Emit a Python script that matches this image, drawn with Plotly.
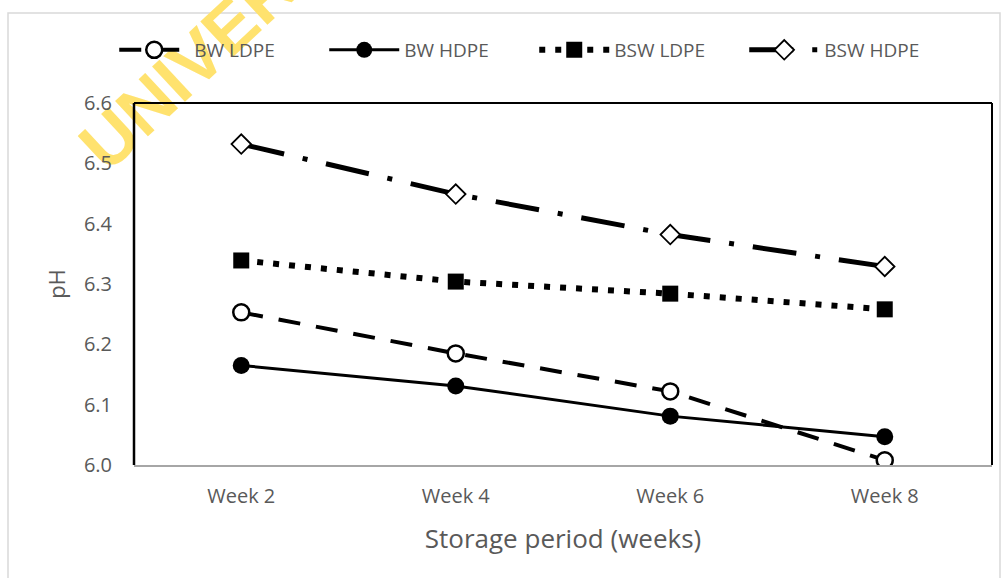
import plotly.graph_objects as go

weeks = ["Week 2", "Week 4", "Week 6", "Week 8"]
bw_ldpe = [6.253, 6.185, 6.122, 6.008]
bw_hdpe = [6.165, 6.131, 6.081, 6.047]
bsw_ldpe = [6.339, 6.304, 6.284, 6.258]
bsw_hdpe = [6.532, 6.449, 6.382, 6.329]
y_ticks = [6.0, 6.1, 6.2, 6.3, 6.4, 6.5, 6.6]

FONT = "Open Sans"
GRAY = "#595959"

fig = go.Figure()
fig.add_trace(go.Scatter(
    x=weeks, y=bw_ldpe, name="BW LDPE", mode="lines+markers",
    line=dict(color="black", width=4, dash="22px,16px"),
    marker=dict(symbol="circle", size=16, color="white", line=dict(color="black", width=2.5))))
fig.add_trace(go.Scatter(
    x=weeks, y=bw_hdpe, name="BW HDPE", mode="lines+markers",
    line=dict(color="black", width=3),
    marker=dict(symbol="circle", size=17, color="black")))
fig.add_trace(go.Scatter(
    x=weeks, y=bsw_ldpe, name="BSW LDPE", mode="lines+markers",
    line=dict(color="black", width=6, dash="6px,10px"),
    marker=dict(symbol="square", size=16, color="black")))
fig.add_trace(go.Scatter(
    x=weeks, y=bsw_hdpe, name="BSW HDPE", mode="lines+markers",
    line=dict(color="black", width=5, dash="44px,19px,5px,19px"),
    marker=dict(symbol="diamond", size=15, color="white", line=dict(color="black", width=1.8))))

wm_x = (240 - 134) / 858
wm_y = (465 - 8) / 362

fig.update_layout(
    width=1008, height=578,
    margin=dict(l=134, r=16, t=103, b=113),
    paper_bgcolor="white", plot_bgcolor="white",
    font=dict(family=FONT, color=GRAY, size=20),
    showlegend=True,
    legend=dict(orientation="h", xref="container", yref="container",
                x=0.53, xanchor="center", y=1 - 50 / 578, yanchor="middle",
                font=dict(size=19, color=GRAY), itemwidth=70,
                entrywidth=125, entrywidthmode="pixels",
                traceorder="normal", bgcolor="rgba(0,0,0,0)"),
    xaxis=dict(type="category", range=[-0.5, 3.5], showgrid=False, zeroline=False,
               showline=True, linecolor="#a6a6a6", linewidth=2, ticks="", mirror=False,
               tickfont=dict(size=20, color=GRAY), ticklabelstandoff=12,
               title=dict(text="Storage period (weeks)", font=dict(size=26, color=GRAY), standoff=22)),
    yaxis=dict(range=[6.0, 6.6], tickvals=y_ticks, ticktext=[f"{v:.1f}" for v in y_ticks],
               showgrid=False, zeroline=False, showline=False, ticks="",
               tickfont=dict(size=20, color=GRAY), ticklabelstandoff=21,
               title=dict(text="pH", font=dict(size=22, color=GRAY), standoff=12)),
    shapes=[
        dict(type="rect", xref="paper", yref="paper",
             x0=(8 - 134) / 858, x1=(1000 - 134) / 858, y0=(465 - 600) / 362, y1=(465 - 13) / 362,
             line=dict(color="#d9d9d9", width=1.5), layer="below"),
        dict(type="rect", xref="paper", yref="paper",
             x0=wm_x - 0.01, x1=wm_x + 0.01, y0=wm_y - 0.01, y1=wm_y + 0.01,
             line=dict(width=0), fillcolor="rgba(0,0,0,0)", layer="below",
             label=dict(text="UNIVERSITY", textangle=-43, textposition="middle center",
                        font=dict(size=70, color="rgb(255,226,110)", family="Liberation Sans",
                                  weight="bold"))),
        dict(type="line", xref="paper", yref="paper", x0=0, x1=1, y0=1, y1=1, line=dict(color="black", width=2)),
        dict(type="line", xref="paper", yref="paper", x0=0, x1=0, y0=0, y1=1, line=dict(color="black", width=2.5)),
        dict(type="line", xref="paper", yref="paper", x0=1, x1=1, y0=0, y1=1, line=dict(color="black", width=2)),
    ],
)

fig.write_html("out.html", config={"displayModeBar": False},
               post_script="document.body.style.margin='0';")
